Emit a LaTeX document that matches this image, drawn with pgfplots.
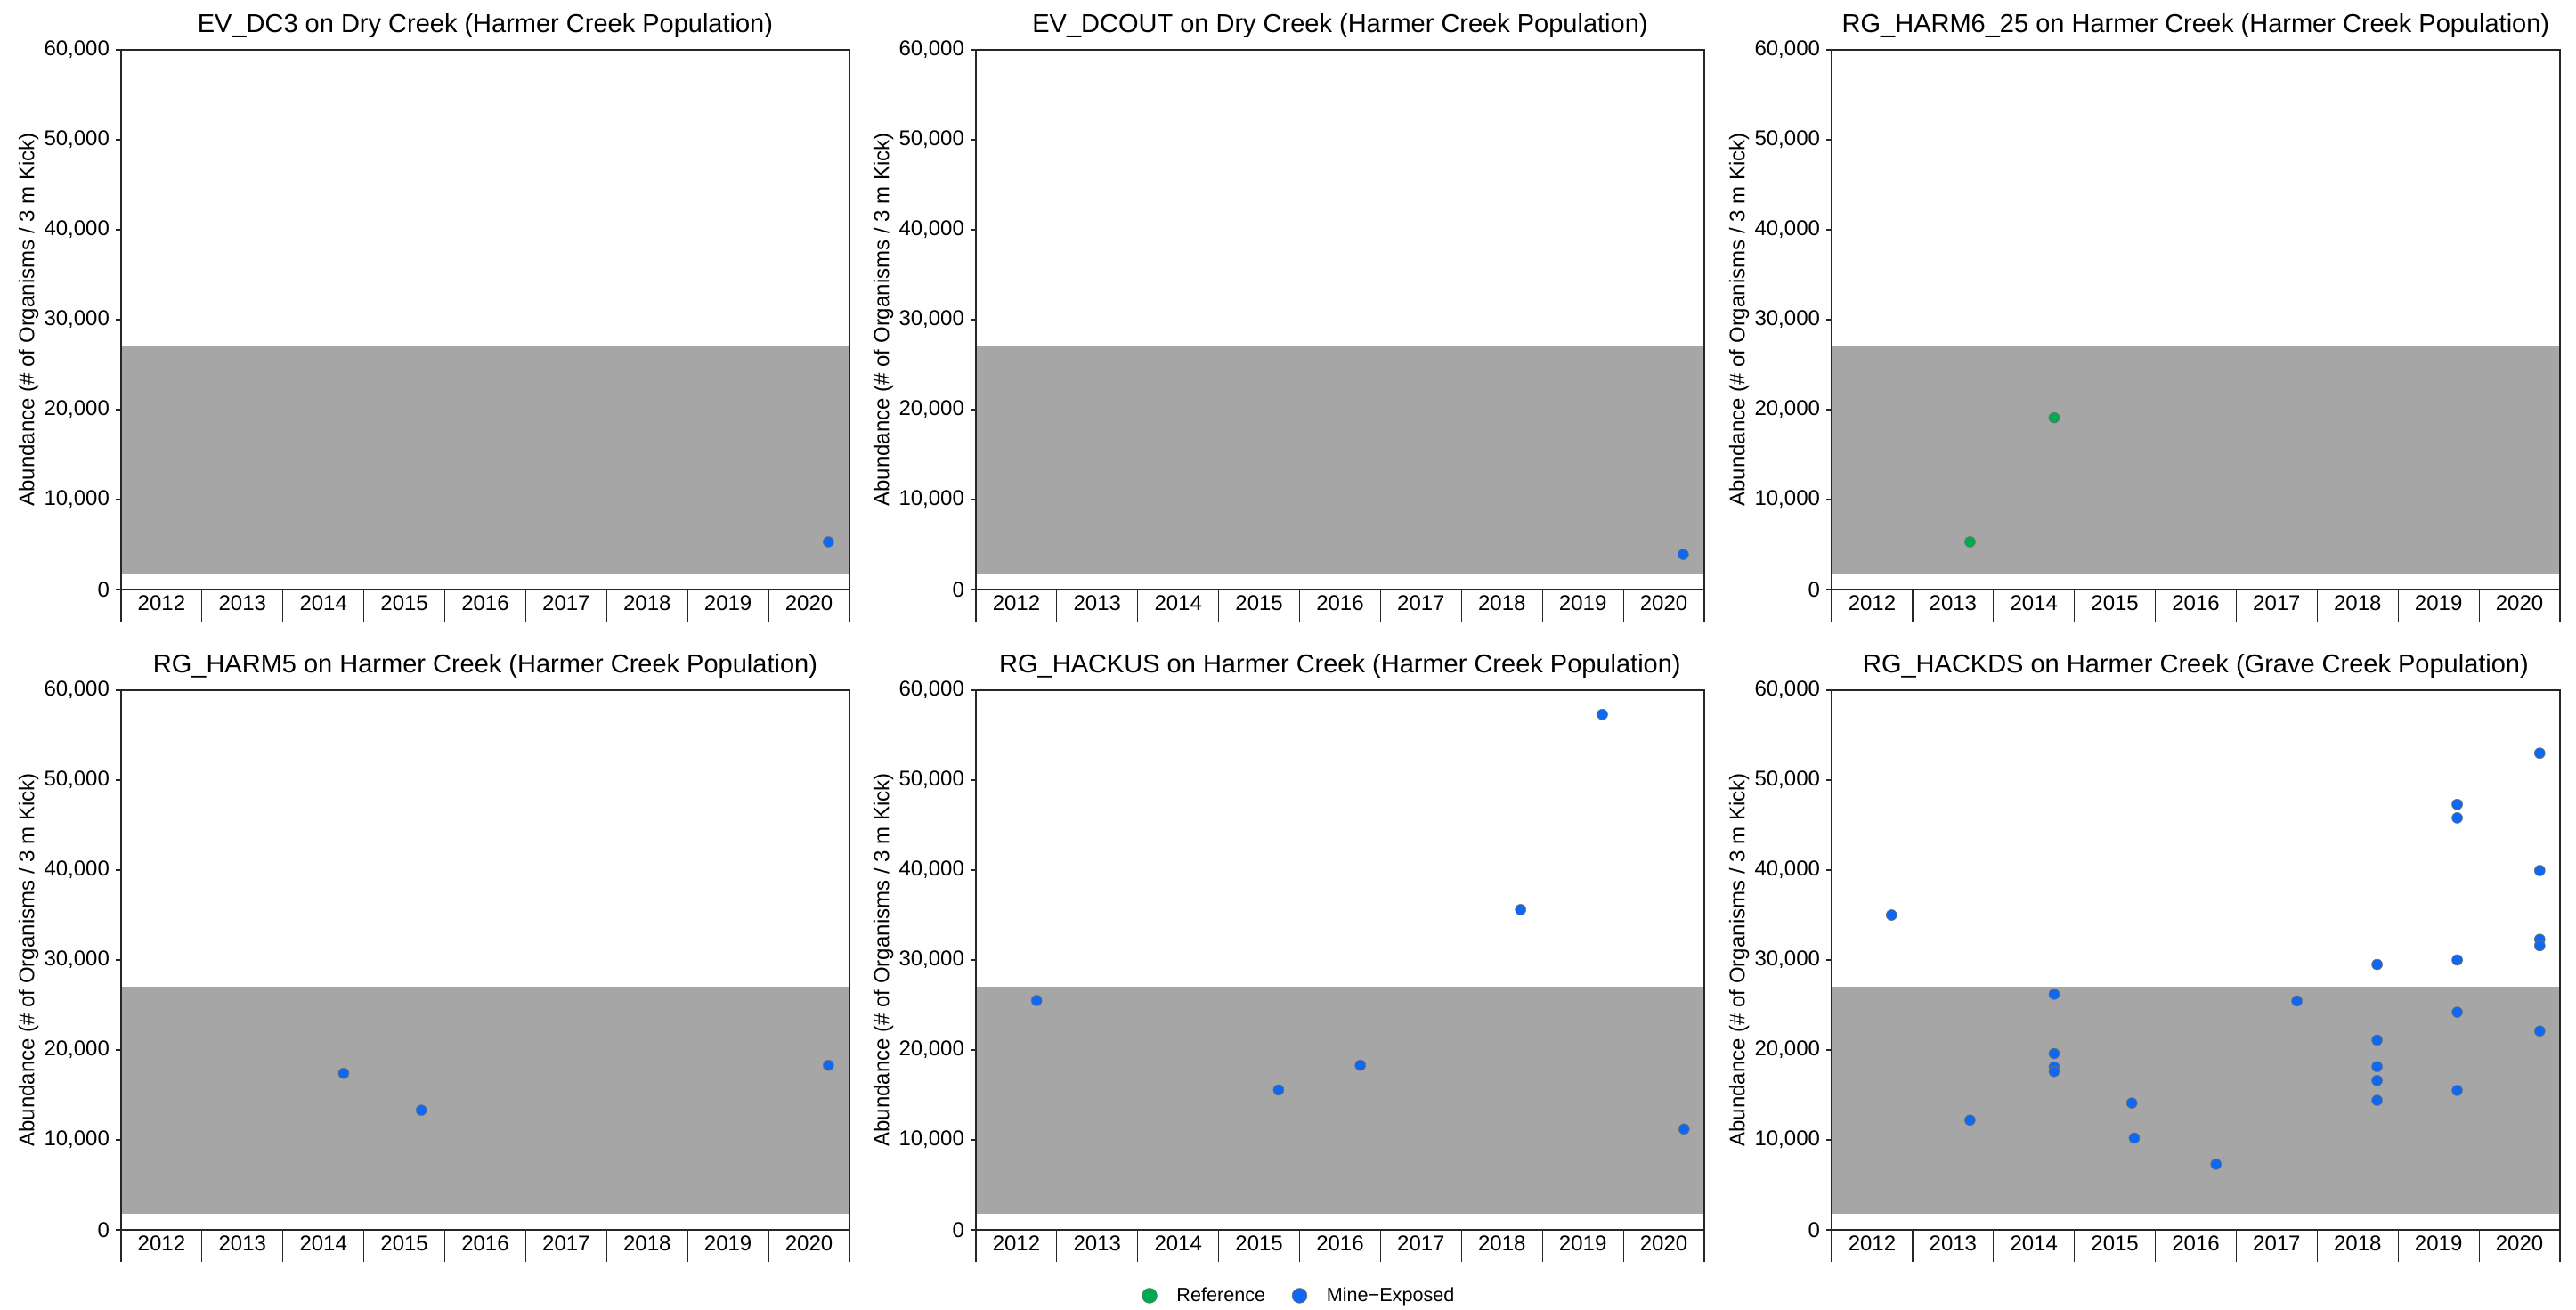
\documentclass[border=0pt]{standalone}
\usepackage{pgfplots}
\pgfplotsset{compat=1.18}
\usepackage{fontspec}
\setmainfont{Liberation Sans}
\definecolor{bandgray}{RGB}{166,166,166}
\definecolor{mineblue}{RGB}{16,104,240}
\definecolor{refgreen}{RGB}{0,170,80}
\newcommand{\seps}[1]{\pgfplotsinvokeforeach{0,...,9}{\draw[black!85,line width=0.6pt] (axis cs:##1,0) -- ++(0pt,-#1);}}
\pgfplotsset{
 panel/.style={
  scale only axis, width=409pt, height=303pt,
  xmin=0, xmax=9, ymin=0, ymax=60000,
  axis on top, clip=false,
  axis line style={black!85, line width=0.6pt},
  xtick={0.5,1.5,2.5,3.5,4.5,5.5,6.5,7.5,8.5},
  xticklabels={2012,2013,2014,2015,2016,2017,2018,2019,2020},
  xtick style={draw=none},
  ytick={0,10000,20000,30000,40000,50000,60000},
  ytick pos=left, xtick pos=bottom,
  tick align=outside, major tick length=3pt,
  ytick style={black!85, line width=0.6pt},
  scaled y ticks=false,
  /pgf/number format/fixed,
  /pgf/number format/1000 sep={,},
  /pgf/number format/assume math mode=true,
  tick label style={font=\fontsize{12}{14}\selectfont, black},
  xticklabel style={anchor=north, inner sep=0pt},
  title style={at={(0.5,1)}, anchor=base, yshift=3.75pt, font=\fontsize{14.5}{17}\selectfont},
  ylabel={Abundance (\# of Organisms / 3 m Kick)},
  ylabel style={at={(axis description cs:-0.127,0.5)}, anchor=center, font=\fontsize{12}{14}\selectfont},
 },
 band/.style={draw=none, fill=bandgray, forget plot},
 mine/.style={only marks, mark=*, mark size=3pt, mark options={fill=mineblue, draw=black!55, line width=0.3pt}},
 refp/.style={only marks, mark=*, mark size=3pt, mark options={fill=refgreen, draw=black!55, line width=0.3pt}},
}
\begin{document}
\begin{tikzpicture}
\useasboundingbox (0,0) rectangle (1446.5pt,-735.5pt);

% Panel 1
\begin{axis}[panel, at={(68pt,-331pt)}, anchor=south west,
  title={EV\_DC3 on Dry Creek (Harmer Creek Population)}]
\addplot[band] coordinates {(0,1800) (9,1800) (9,27000) (0,27000)} -- cycle;
\addplot[mine] coordinates {(8.74,5300)};
\seps{18pt}
\end{axis}

% Panel 2
\begin{axis}[panel, at={(548pt,-331pt)}, anchor=south west,
  title={EV\_DCOUT on Dry Creek (Harmer Creek Population)}]
\addplot[band] coordinates {(0,1800) (9,1800) (9,27000) (0,27000)} -- cycle;
\addplot[mine] coordinates {(8.74,3900)};
\seps{18pt}
\end{axis}

% Panel 3
\begin{axis}[panel, at={(1028.5pt,-331pt)}, anchor=south west,
  title={RG\_HARM6\_25 on Harmer Creek (Harmer Creek Population)}]
\addplot[band] coordinates {(0,1800) (9,1800) (9,27000) (0,27000)} -- cycle;
\addplot[refp] coordinates {(1.71,5300) (2.75,19100)};
\seps{18pt}
\end{axis}

% Panel 4
\begin{axis}[panel, at={(68pt,-690.5pt)}, anchor=south west,
  title={RG\_HARM5 on Harmer Creek (Harmer Creek Population)}]
\addplot[band] coordinates {(0,1800) (9,1800) (9,27000) (0,27000)} -- cycle;
\addplot[mine] coordinates {(2.75,17400) (3.71,13300) (8.74,18300)};
\seps{17.75pt}
\end{axis}

% Panel 5
\begin{axis}[panel, at={(548pt,-690.5pt)}, anchor=south west,
  title={RG\_HACKUS on Harmer Creek (Harmer Creek Population)},
  legend style={at={(0.445,-0.122)}, anchor=center, draw=none, fill=none,
    legend columns=2, font=\fontsize{10.8}{13}\selectfont,
    /tikz/every odd column/.append style={column sep=9pt},
    /tikz/every even column/.append style={column sep=13pt}},
  legend image post style={mark size=4.2pt}]
\addplot[band] coordinates {(0,1800) (9,1800) (9,27000) (0,27000)} -- cycle;
\addlegendimage{refp}
\addlegendentry{Reference}
\addplot[mine] coordinates {(0.75,25500) (3.74,15550) (4.75,18300) (6.73,35600) (7.74,57300) (8.75,11200)};
\addlegendentry{Mine−Exposed}
\seps{17.75pt}
\end{axis}

% Panel 6
\begin{axis}[panel, at={(1028.5pt,-690.5pt)}, anchor=south west,
  title={RG\_HACKDS on Harmer Creek (Grave Creek Population)}]
\addplot[band] coordinates {(0,1800) (9,1800) (9,27000) (0,27000)} -- cycle;
\addplot[mine] coordinates {
 (0.74,35000) (1.71,12200)
 (2.75,26200) (2.75,19600) (2.75,18100) (2.75,17600)
 (3.71,14100) (3.74,10200) (4.75,7300) (5.75,25450)
 (6.74,29500) (6.74,21100) (6.74,18150) (6.74,16600) (6.74,14400)
 (7.73,47300) (7.73,45800) (7.73,30000) (7.73,24200) (7.73,15500)
 (8.75,53000) (8.75,39950) (8.75,32300) (8.75,31600) (8.75,22100)};
\seps{17.75pt}
\end{axis}
\end{tikzpicture}
\end{document}
